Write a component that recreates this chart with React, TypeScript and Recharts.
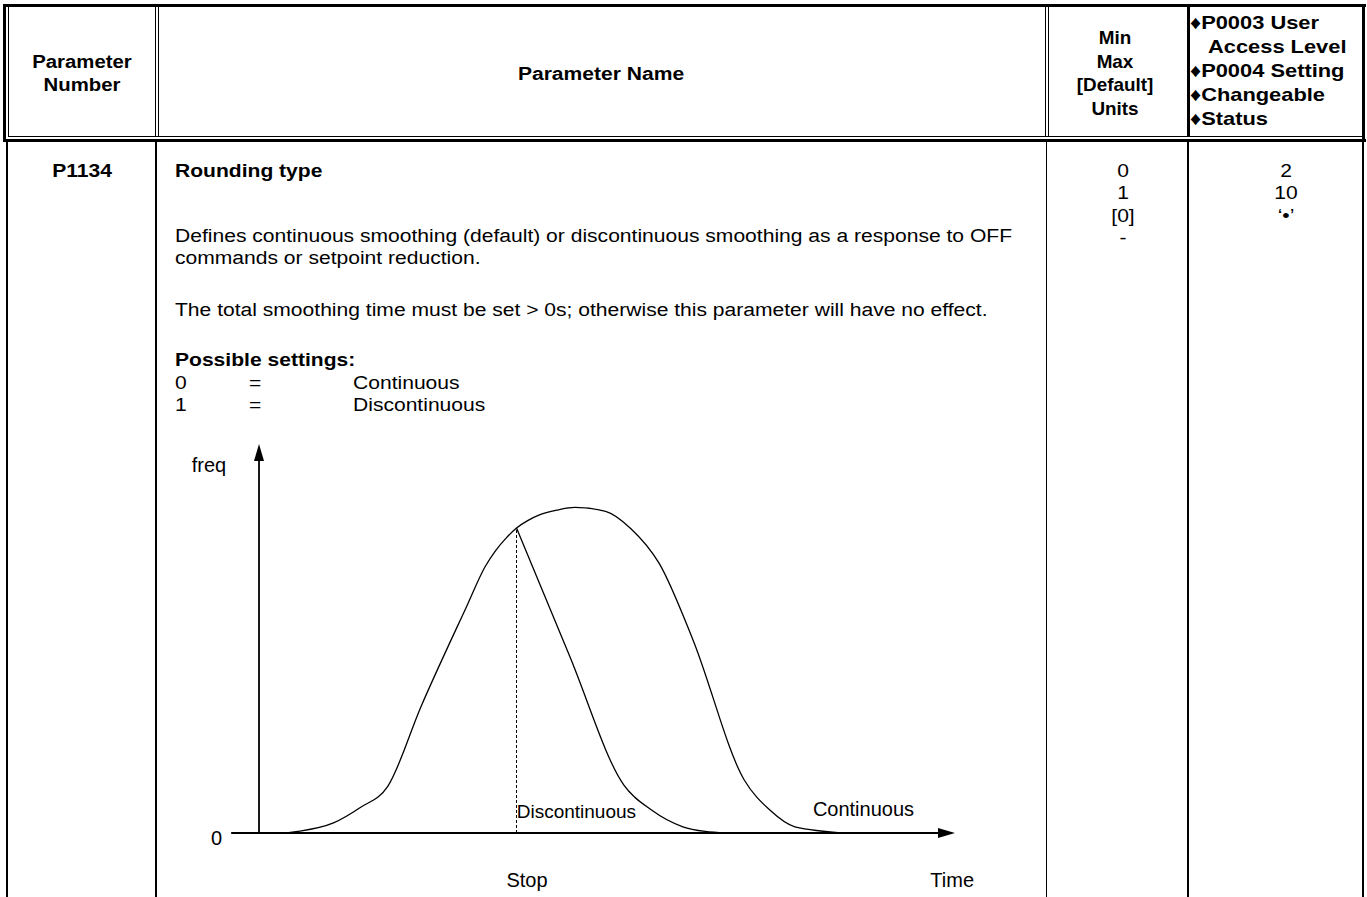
import React from 'react';
import { ComposedChart, Line, XAxis, YAxis, ReferenceLine, ReferenceDot } from 'recharts';

const FONT = '"Liberation Sans", Arial, Helvetica, sans-serif';
const SX = 1.17;

// ---- chart data (time units, freq units) ----
const continuousTime = [0, 3, 5.9, 10.7, 14.5, 18.5, 23.3, 29.9, 32.5, 34.0, 35.5, 37.0, 38.6, 40.2, 42.8, 45.4, 49.8, 53.4, 57.5, 62.3, 69.7, 73.4, 77.0, 84.4];
const continuousFreq = [0, 0, 0.5, 2.6, 6.5, 12.0, 32.6, 58.5, 68.5, 72.6, 75.8, 78.4, 80.3, 81.7, 83.0, 83.7, 82.7, 78.3, 69.3, 49.9, 13.7, 5.9, 1.6, 0];
const discontinuousTime = [37.0, 44.6, 52.4, 56.4, 60.9, 64.1, 67.1];
const discontinuousFreq = [78.4, 45.6, 12.4, 5.9, 1.6, 0.4, 0];
const stopTime = 37.0;
const stopFreq = 78.4;

const xTickValues = [38.5, 99.6];
const xTickLabels = ['Stop', 'Time'];
const yTickValues = [0, 95.8];
const yTickLabels = ['0', 'freq'];

const seriesLabels = ['Discontinuous', 'Continuous'];
const seriesLabelTime = [45.6, 86.85];
const seriesLabelFreq = [5.66, 6.14];

const contData = continuousTime.map((t, i) => ({ t, f: continuousFreq[i] }));
const discData = discontinuousTime.map((t, i) => ({ t, f: discontinuousFreq[i] }));

// ---- table text ----
const headerNumber = ['Parameter', 'Number'];
const headerName = 'Parameter Name';
const headerRange = ['Min', 'Max', '[Default]', 'Units'];
const headerAccess = ['\u2666P0003 User', 'Access Level', '\u2666P0004 Setting', '\u2666Changeable', '\u2666Status'];
const paramNumber = 'P1134';
const paramName = 'Rounding type';
const description = [
  'Defines continuous smoothing (default) or discontinuous smoothing as a response to OFF',
  'commands or setpoint reduction.',
];
const note = 'The total smoothing time must be set > 0s; otherwise this parameter will have no effect.';
const settingsTitle = 'Possible settings:';
const settingValues = ['0', '1'];
const settingNames = ['Continuous', 'Discontinuous'];
const rangeValues = ['0', '1', '[0]', '-'];
const accessValues = ['2', '10', '\u2018\u2022\u2019'];

type TProps = { x: number; y: number; text: string; bold?: boolean; size?: number; align?: 'left' | 'center'; sx?: number };
function T({ x, y, text, bold, size = 18, align = 'left', sx = SX }: TProps) {
  const style: React.CSSProperties = {
    position: 'absolute',
    left: x,
    top: y - 0.8465 * size,
    fontFamily: FONT,
    fontSize: size,
    lineHeight: `${size}px`,
    fontWeight: bold ? 700 : 400,
    whiteSpace: 'pre',
    color: '#000',
    transformOrigin: align === 'center' ? '50% 0' : '0 0',
    transform: align === 'center' ? `translateX(-50%) scaleX(${sx})` : `scaleX(${sx})`,
  };
  return <div style={style}>{text}</div>;
}

function R({ x, y, w, h }: { x: number; y: number; w: number; h: number }) {
  return <div style={{ position: 'absolute', left: x, top: y, width: w, height: h, background: '#000' }} />;
}

const arrowX = (p: any) => {
  const { x1, y1, x2, y2 } = p;
  const L = 17;
  return (
    <g>
      <line x1={x1} y1={y1} x2={x2 - L + 1} y2={y2} stroke="#000" strokeWidth={1.8} />
      <polygon points={`${x2},${y2} ${x2 - L},${y2 - 5} ${x2 - L},${y2 + 5}`} fill="#000" />
    </g>
  );
};
const arrowY = (p: any) => {
  const { x1, y1, x2, y2 } = p;
  const L = 17;
  return (
    <g>
      <line x1={x1} y1={y1} x2={x2} y2={y2 + L - 1} stroke="#000" strokeWidth={1.8} />
      <polygon points={`${x2},${y2} ${x2 - 5},${y2 + L} ${x2 + 5},${y2 + L}`} fill="#000" />
    </g>
  );
};

const XTick = (props: any) => {
  const { x, y, payload } = props;
  const i = xTickValues.indexOf(payload.value);
  return (
    <text x={x} y={y + 54} textAnchor="middle" fontFamily={FONT} fontSize={20} fill="#000">
      {xTickLabels[i]}
    </text>
  );
};
const YTick = (props: any) => {
  const { x, y, payload } = props;
  const i = yTickValues.indexOf(payload.value);
  const label = yTickLabels[i];
  const dx = label === 'freq' ? -5 : -9;
  return (
    <text x={x + dx} y={y + 12} textAnchor="end" fontFamily={FONT} fontSize={20} fill="#000">
      {label}
    </text>
  );
};

function Chart() {
  return (
    <ComposedChart width={880} height={477} margin={{ top: 24, right: 85, bottom: 4, left: 31.16 }}>
      <XAxis
        type="number"
        dataKey="t"
        domain={[-4, 100]}
        ticks={xTickValues}
        tick={<XTick />}
        axisLine={false}
        tickLine={false}
        tickSize={0}
        tickMargin={0}
        height={60}
        interval={0}
      />
      <YAxis
        type="number"
        dataKey="f"
        domain={[0, 100]}
        ticks={yTickValues}
        tick={<YTick />}
        axisLine={false}
        tickLine={false}
        tickSize={0}
        tickMargin={0}
        width={40}
        interval={0}
      />
      <ReferenceLine segment={[{ x: -4, y: 0 }, { x: 100, y: 0 }]} shape={arrowX} />
      <ReferenceLine segment={[{ x: 0, y: 0 }, { x: 0, y: 100 }]} shape={arrowY} />
      <ReferenceLine
        segment={[{ x: stopTime, y: 0 }, { x: stopTime, y: stopFreq }]}
        stroke="#000"
        strokeWidth={1}
        strokeDasharray="3 2"
      />
      <Line data={contData} dataKey="f" type="monotone" stroke="#000" strokeWidth={1.3} dot={false} activeDot={false} isAnimationActive={false} />
      <Line data={discData} dataKey="f" type="monotone" stroke="#000" strokeWidth={1.3} dot={false} activeDot={false} isAnimationActive={false} />
      {seriesLabels.map((s, i) => (
        <ReferenceDot
          key={s}
          x={seriesLabelTime[i]}
          y={seriesLabelFreq[i]}
          r={0}
          fill="none"
          stroke="none"
          label={{ value: s, position: 'center', fill: '#000', fontSize: i === 0 ? 19 : 20, fontFamily: FONT }}
        />
      ))}
    </ComposedChart>
  );
}

export default function App() {
  return (
    <div style={{ position: 'absolute', left: 0, top: 0, width: 1367, height: 897, overflow: 'hidden', background: '#fff' }}>
      {/* header borders */}
      <R x={3} y={4} w={1363} h={3} />
      <R x={3} y={4} w={3} h={137} />
      <R x={7.5} y={7} w={1} h={130} />
      <R x={7.5} y={136} w={1355} h={1} />
      <R x={3} y={139} w={1363} h={2.5} />
      <R x={154.5} y={7} w={1} h={130} />
      <R x={157.5} y={7} w={1} h={130} />
      <R x={1044.5} y={7} w={1} h={130} />
      <R x={1047.5} y={7} w={1} h={130} />
      <R x={1187} y={7} w={2.5} h={130} />
      <R x={1362} y={4} w={3} h={137} />
      {/* body borders */}
      <R x={6} y={141} w={2} h={756} />
      <R x={155} y={141} w={2} h={756} />
      <R x={1045.5} y={141} w={1.5} h={756} />
      <R x={1187} y={141} w={2} h={756} />
      <R x={1362} y={141} w={2} h={756} />

      {/* header text */}
      <T x={82} y={68.5} text={headerNumber[0]} bold align="center" sx={1.13} />
      <T x={82} y={91.5} text={headerNumber[1]} bold align="center" sx={1.13} />
      <T x={601} y={80} text={headerName} bold align="center" />
      {headerRange.map((s, i) => (
        <T key={s} x={1115} y={45 + i * 23.5} text={s} bold align="center" size={18.5} sx={1.02} />
      ))}
      {headerAccess.map((s, i) => (
        <T key={s} x={i === 1 ? 1208 : 1190} y={29.5 + i * 24} text={s} bold size={19} sx={1.15} />
      ))}

      {/* body text */}
      <T x={82} y={177} text={paramNumber} bold align="center" />
      <T x={175} y={177} text={paramName} bold />
      {description.map((s, i) => (
        <T key={s} x={175} y={242.5 + i * 21.5} text={s} />
      ))}
      <T x={175} y={316} text={note} />
      <T x={175} y={366} text={settingsTitle} bold />
      {settingValues.map((v, i) => (
        <React.Fragment key={v}>
          <T x={175} y={389 + i * 22} text={v} />
          <T x={249} y={389 + i * 22} text="=" />
          <T x={353} y={389 + i * 22} text={settingNames[i]} />
        </React.Fragment>
      ))}
      {rangeValues.map((s, i) => (
        <T key={s + i} x={1123} y={177 + i * 22.5} text={s} align="center" />
      ))}
      {accessValues.map((s, i) => (
        <T key={s + i} x={1286} y={177 + i * 22.5} text={s} align="center" />
      ))}

      <div style={{ position: 'absolute', left: 160, top: 420 }}>
        <Chart />
      </div>
    </div>
  );
}
